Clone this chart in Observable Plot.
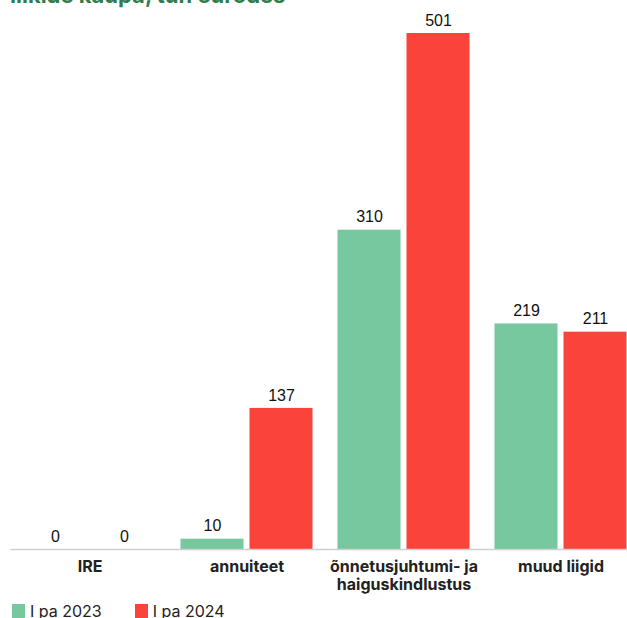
<!DOCTYPE html>
<html>
<head>
<meta charset="utf-8">
<script src="https://cdn.jsdelivr.net/npm/d3@7"></script>
<script src="https://cdn.jsdelivr.net/npm/@observablehq/plot@0.6"></script>
<style>
  html, body { margin: 0; padding: 0; background: #fff; overflow: hidden; width: 627px; height: 618px; }
  body { font-family: Inter, "Liberation Sans", sans-serif; position: relative; }
  #title { position: absolute; top: -16px; left: 10px; font-size: 22px; line-height: 1; font-weight: 700; color: #2f7d4f; white-space: nowrap; }
  #legend { position: absolute; top: 601px; left: 12px; display: flex; gap: 0; font-size: 16px; color: #222; }
  .item { display: flex; align-items: center; margin-right: 33px; }
  .sw { width: 13px; height: 14px; margin-right: 5px; }
  #chart { position: absolute; top: 0; left: 0; width: 640px; }
  #chart svg { max-width: none !important; }
</style>
</head>
<body>
<div id="title">liikide kaupa, tuh eurodes</div>
<div id="chart"></div>
<div id="legend"></div>
<script>
const categories = ["IRE", "annuiteet", "õnnetusjuhtumi- ja\nhaiguskindlustus", "muud liigid"];
const seriesNames = ["I pa 2023", "I pa 2024"];
const values2023 = [0, 10, 310, 219];
const values2024 = [0, 137, 501, 211];
const colors = ["#77c79f", "#fa433a"];

const data = [];
categories.forEach((c, i) => {
  data.push({category: c, series: seriesNames[0], value: values2023[i]});
  data.push({category: c, series: seriesNames[1], value: values2024[i]});
});

const chart = Plot.plot({
  width: 628,
  height: 595,
  marginTop: 33,
  marginBottom: 46,
  marginLeft: 22.5,
  marginRight: 0,
  style: {fontFamily: "Inter, 'Liberation Sans', sans-serif", background: "transparent", overflow: "visible", maxWidth: "none"},
  fx: {domain: categories, paddingInner: 0.1556, paddingOuter: 0, label: null},
  x: {domain: seriesNames, paddingInner: 0.092, paddingOuter: 0, axis: null},
  y: {domain: [0, 501], axis: null},
  color: {domain: seriesNames, range: colors},
  marks: [
    Plot.barY(data, {fx: "category", x: "series", y: "value", fill: "series"}),
    Plot.ruleY([0], {stroke: "#cfcfcf", strokeWidth: 1.5, insetLeft: -12.5, insetRight: -12.5}),
    Plot.text(data, {fx: "category", x: "series", y: "value", text: d => String(d.value), dy: -13, fontSize: 16, fontFamily: "'Liberation Sans', Arial, sans-serif", fill: "#111"}),
    Plot.axisFx({anchor: "bottom", tickSize: 0, tickPadding: 9, fontSize: 16, fontWeight: 700, fill: "#222", label: null, lineHeight: 1.15})
  ]
});
document.getElementById("chart").appendChild(chart);

const legend = document.getElementById("legend");
seriesNames.forEach((s, i) => {
  const item = document.createElement("div");
  item.className = "item";
  const sw = document.createElement("div");
  sw.className = "sw";
  sw.style.background = colors[i];
  const t = document.createElement("span");
  t.textContent = s;
  item.appendChild(sw);
  item.appendChild(t);
  legend.appendChild(item);
});
</script>
</body>
</html>
